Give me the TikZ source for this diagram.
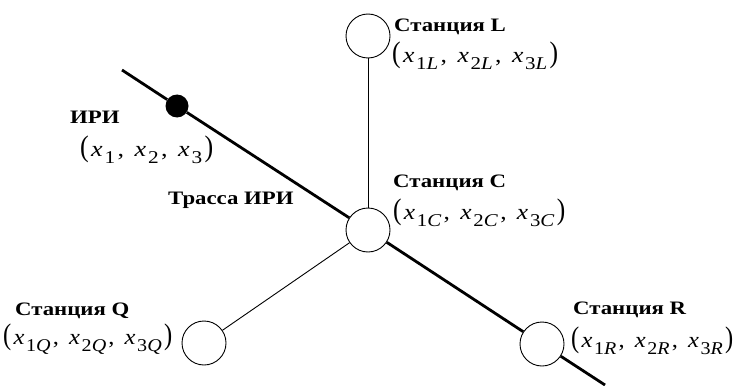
\documentclass[tikz,border=0pt]{standalone}
\usepackage{amsmath}
\usepackage{graphicx}
\usepackage{fontspec}
\setmainfont{Liberation Serif}
\newfontfamily\lblfont{Liberation Serif}[FakeStretch=1.2]
\usetikzlibrary{positioning}
\definecolor{InkBlack}{RGB}{0,0,0}
% coordinate with subscript
\newcommand{\xsub}[2]{\textit{x}\hspace{1.5pt}\raisebox{-0.33em}{\fontsize{18}{18}\selectfont #1\textit{#2}}\hspace{2pt}}
\newcommand{\lpar}{\scalebox{1}[1.35]{(}}
\newcommand{\rpar}{\scalebox{1}[1.35]{)}}
\newcommand{\sep}{,\hspace{9pt}}
\newcommand{\triple}[2]{\resizebox{#1}{\height}{\lpar\hspace{2pt}\xsub{1}{#2}\sep\xsub{2}{#2}\sep\xsub{3}{#2}\rpar}}

\begin{document}
\begin{tikzpicture}[x=1pt,y=-1pt,
    station/.style={draw=InkBlack,circle,fill=white,minimum size=44pt,inner sep=0pt,line width=0.9pt},
    source/.style={circle,fill=InkBlack,minimum size=23pt,inner sep=0pt},
    track/.style={line width=2.8pt,InkBlack},
    link/.style={line width=0.9pt,InkBlack},
    stlabel/.style={anchor=west,inner sep=0pt,font=\lblfont\fontsize{19}{22}\selectfont\bfseries},
    coords/.style={anchor=west,inner sep=0pt,font=\fontsize{22}{24}\selectfont}]
      \useasboundingbox (0,0) rectangle (735,385);
      \coordinate (tstart) at (122,70);
      \coordinate (tend) at (605,385);
      \node[source] (iri) at (177,106) {};
      \node[station] (L) at (368,36) {};
      \node[station] (C) at (368,230) {};
      \node[station] (Q) at (204,343) {};
      \node[station] (R) at (542,344) {};
      \draw[link] (L) -- (C);
      \draw[link] (Q) -- (C);
      \draw[track] (tstart) -- (iri) -- (C) -- (R) -- (tend);
      % labels
      \node[stlabel] (nL) at (394,27) {Станция L};
      \node[coords] (cL) at (392,56) {\triple{166pt}{L}};
      \node[stlabel] (nI) at (70,117) {ИРИ};
      \node[coords] (cI) at (80,150) {\triple{133pt}{}};
      \node[stlabel] (nT) at (168,200) {Трасса ИРИ};
      \node[stlabel] (nC) at (393,183) {Станция C};
      \node[coords] (cC) at (393,213) {\triple{172pt}{C}};
      \node[stlabel] (nQ) at (15,311) {Станция Q};
      \node[coords] (cQ) at (3,339) {\triple{169pt}{Q}};
      \node[stlabel] (nR) at (573,310) {Станция R};
      \node[coords] (cR) at (571,341) {\triple{162pt}{R}};
\end{tikzpicture}
\end{document}
